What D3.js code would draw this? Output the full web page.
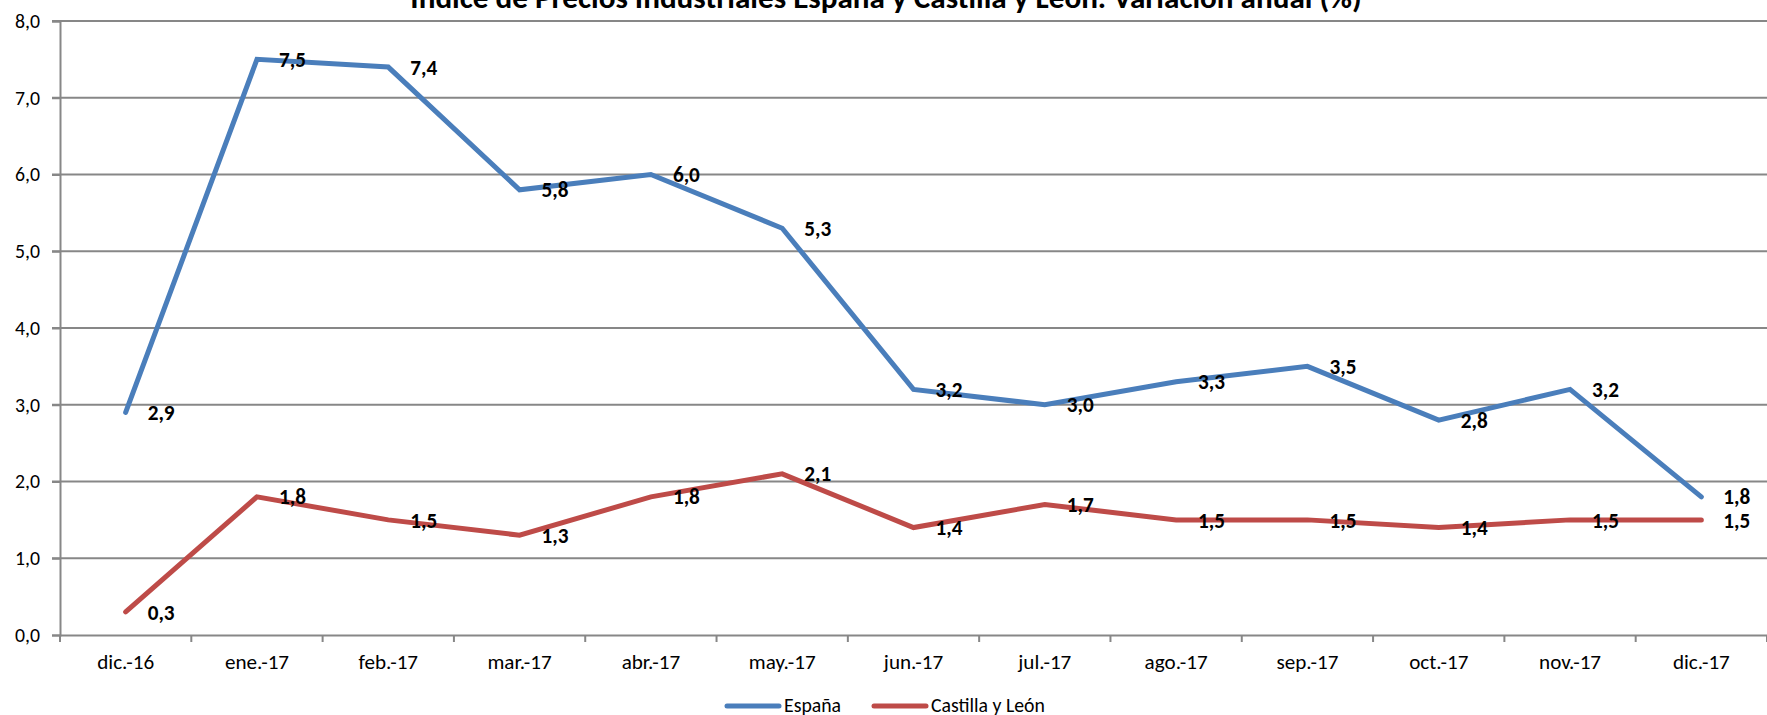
<!DOCTYPE html>
<html>
<head>
<meta charset="utf-8">
<script src="https://cdn.jsdelivr.net/npm/d3@7"></script>
<style>
  html, body { margin: 0; padding: 0; background: #fff; overflow: hidden; }
  svg { display: block; }
  text { font-family: Carlito, Calibri, Lato, "Open Sans", sans-serif; }
</style>
</head>
<body>
<svg id="chart" width="1767" height="715"></svg>
<script>
const titleText = "Índice de Precios Industriales España y Castilla y León. Variación anual (%)";
const categories = ["dic.-16","ene.-17","feb.-17","mar.-17","abr.-17","may.-17","jun.-17","jul.-17","ago.-17","sep.-17","oct.-17","nov.-17","dic.-17"];
const espana = [2.9, 7.5, 7.4, 5.8, 6.0, 5.3, 3.2, 3.0, 3.3, 3.5, 2.8, 3.2, 1.8];
const castilla = [0.3, 1.8, 1.5, 1.3, 1.8, 2.1, 1.4, 1.7, 1.5, 1.5, 1.4, 1.5, 1.5];
const yTicks = [0, 1, 2, 3, 4, 5, 6, 7, 8];
const seriesNames = ["España", "Castilla y León"];
const seriesColors = ["#4A7EBB", "#BE4B48"];

(function () {
const svg = d3.select("#chart");
const pLeft = 60, pRight = 1767, pTop = 21, pBottom = 635;
const FF = "Carlito, Calibri, Lato, sans-serif";

// font size fitting helper: size so that sample string has target width
function fitSize(sample, target, weight) {
  const t = svg.append("text").attr("font-size", 20).attr("font-weight", weight || "normal")
    .style("font-family", FF).text(sample);
  const w = t.node().getComputedTextLength();
  t.remove();
  return 20 * target / w;
}
const xLabelSize = fitSize("dic.-16", 57);
const yLabelSize = fitSize("3,0", 25);
const dataLabelSize = fitSize("2,9", 27, "bold");
const legendSize = fitSize("Castilla y León", 114);

const x = d3.scaleBand().domain(categories).range([pLeft, pRight]).padding(0);
const y = d3.scaleLinear().domain([0, 8]).range([pBottom, pTop]);
const fmt = v => v.toFixed(1).replace(".", ",");
const gridColor = "#878787";

// gridlines
svg.append("g").selectAll("line").data(yTicks.filter(d => d > 0)).join("line")
  .attr("x1", pLeft - 8).attr("x2", pRight)
  .attr("y1", d => y(d)).attr("y2", d => y(d))
  .attr("stroke", gridColor).attr("stroke-width", 2);

// y axis
const yAxis = d3.axisLeft(y).tickValues(yTicks).tickFormat(fmt).tickSize(8).tickPadding(12);
const gy = svg.append("g").attr("transform", `translate(${pLeft},0)`).call(yAxis);
gy.attr("font-size", null).attr("font-family", null);
gy.select(".domain").attr("stroke", gridColor).attr("stroke-width", 2);
gy.selectAll(".tick line").attr("stroke", gridColor).attr("stroke-width", 2);
gy.selectAll(".tick text").attr("font-size", yLabelSize).attr("fill", "#000")
  .style("font-family", FF);

// x axis
const xAxis = d3.axisBottom(x).tickSize(0).tickPadding(26);
const gx = svg.append("g").attr("transform", `translate(0,${pBottom})`).call(xAxis);
gx.attr("font-size", null).attr("font-family", null);
gx.select(".domain").attr("stroke", gridColor).attr("stroke-width", 2);
gx.selectAll(".tick text").attr("font-size", xLabelSize).attr("fill", "#000")
  .attr("y", 34).attr("dy", 0)
  .style("font-family", FF);
// boundary ticks
const bounds = categories.map(c => x(c)).concat([pRight]);
svg.append("g").selectAll("line").data(bounds).join("line")
  .attr("x1", d => d).attr("x2", d => d)
  .attr("y1", pBottom).attr("y2", pBottom + 7)
  .attr("stroke", gridColor).attr("stroke-width", 2);

// lines
const cx = c => x(c) + x.bandwidth() / 2;
const line = d3.line().x((d, i) => cx(categories[i])).y(d => y(d));
[espana, castilla].forEach((vals, si) => {
  svg.append("path").datum(vals)
    .attr("d", line)
    .attr("fill", "none")
    .attr("stroke", seriesColors[si])
    .attr("stroke-width", 5)
    .attr("stroke-linejoin", "miter")
    .attr("stroke-linecap", "round");
});

// data labels
[espana, castilla].forEach((vals, si) => {
  svg.append("g").selectAll("text").data(vals).join("text")
    .attr("x", (d, i) => cx(categories[i]) + 22)
    .attr("y", d => y(d))
    .attr("dy", "0.36em")
    .attr("font-size", dataLabelSize)
    .attr("font-weight", "bold")
    .attr("fill", "#000")
    .text(fmt);
});

// title
const title = svg.append("text")
  .attr("x", 886).attr("y", 8)
  .attr("text-anchor", "middle")
  .attr("font-size", 24)
  .attr("font-weight", "bold")
  .attr("fill", "#000")
  .text(titleText);
const tw = title.node().getComputedTextLength();
title.attr("font-size", 24 * 952 / tw);

// legend
const legendItems = [
  { name: seriesNames[0], color: seriesColors[0], x0: 725 },
  { name: seriesNames[1], color: seriesColors[1], x0: 872 }
];
const lg = svg.append("g");
legendItems.forEach(it => {
  lg.append("line")
    .attr("x1", it.x0 + 2).attr("x2", it.x0 + 54)
    .attr("y1", 706).attr("y2", 706)
    .attr("stroke", it.color).attr("stroke-width", 5).attr("stroke-linecap", "round");
  lg.append("text")
    .attr("x", it.x0 + 59).attr("y", 712)
    .attr("font-size", legendSize).attr("fill", "#000")
    .text(it.name);
});
})();
</script>
</body>
</html>
